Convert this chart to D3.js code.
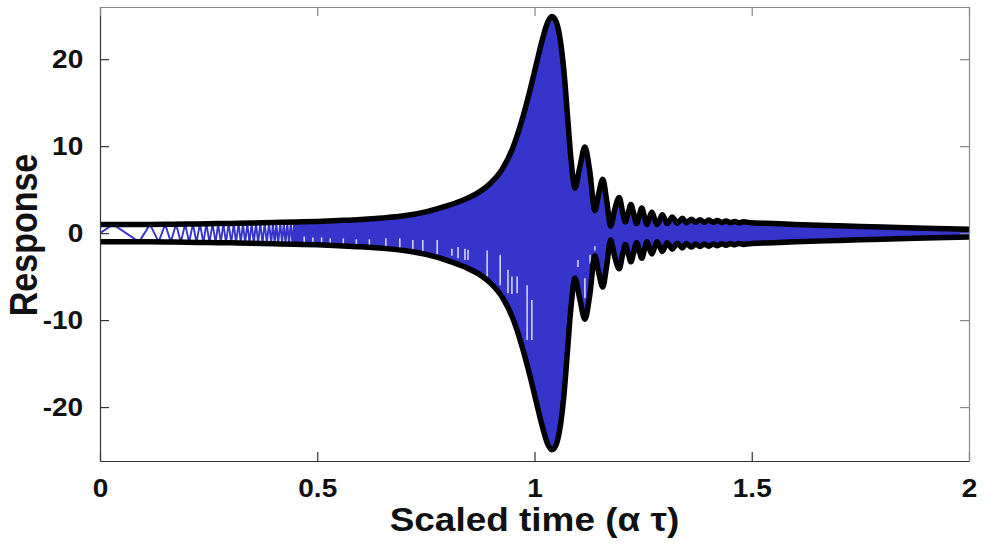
<!DOCTYPE html>
<html><head><meta charset="utf-8">
<script src="https://cdn.jsdelivr.net/npm/d3@7"></script>
<style>body{margin:0;background:#fff}svg{display:block}</style>
</head><body><svg id="c" width="984" height="553"></svg>
<script>
// ---- data ----
const xTicks = [0, 0.5, 1, 1.5, 2];
const yTicks = [-20, -10, 0, 10, 20];
const xTitle = "Scaled time (\u03b1 \u03c4)";
const yTitle = "Response";

// envelope (black) : scaled time and amplitude
const envT = [0.000,0.050,0.100,0.150,0.200,0.250,0.300,0.350,0.400,0.450,0.500,0.550,0.600,0.650,0.700,0.750,0.800,0.840,0.875,0.900,0.925,0.950,0.970,0.990,1.005,1.020,1.030,1.040,1.050,1.060,1.068,1.076,1.084,1.093,1.104,1.116,1.127,1.139,1.148,1.157,1.166,1.175,1.185,1.195,1.203,1.209,1.216,1.222,1.228,1.235,1.241,1.247,1.253,1.259,1.264,1.270,1.276,1.282,1.288,1.294,1.300,1.305,1.311,1.317,1.323,1.328,1.334,1.340,1.350,1.361,1.371,1.381,1.391,1.401,1.411,1.421,1.431,1.441,1.451,1.461,1.471,1.481,1.500,1.550,1.600,1.700,1.800,1.900,2.000];
const envA = [1.00,1.00,1.00,1.02,1.05,1.08,1.12,1.17,1.22,1.28,1.35,1.45,1.57,1.75,2.00,2.45,3.15,3.90,4.80,5.80,7.30,9.80,12.80,16.50,19.60,22.60,24.20,24.90,24.30,22.00,18.50,13.50,8.50,5.20,7.50,9.90,7.20,2.60,4.60,6.20,3.80,0.80,2.80,4.10,2.40,1.30,2.40,3.30,2.30,1.10,2.00,2.90,1.90,1.00,1.70,2.40,1.70,1.00,1.50,2.10,1.60,1.10,1.45,1.85,1.50,1.15,1.40,1.70,1.20,1.60,1.25,1.55,1.25,1.50,1.25,1.45,1.22,1.40,1.20,1.35,1.18,1.30,1.18,1.10,1.00,0.85,0.70,0.55,0.45];

// times of the alternating extremes of the blue response (visible zig-zag part)
const peakT = [0.030,0.090,0.115,0.135,0.150,0.163,0.175,0.186,0.196,0.205,0.214,0.222,0.230,0.238,0.245,0.252,0.259,0.266,0.272,0.278,0.284,0.290,0.296,0.302,0.308,0.313,0.319,0.324,0.329,0.334,0.339,0.344,0.349,0.354,0.359,0.364,0.369,0.374,0.379,0.384,0.389,0.394,0.398,0.402,0.406,0.410,0.415,0.419,0.423,0.427,0.431,0.435,0.439,0.443,0.447];
const fillStart = 0.445;

// light streaks visible inside the blue area
const gapT  = [0.470,0.490,0.510,0.530,0.560,0.590,0.620,0.658,0.690,0.720,0.743,0.776,0.810,0.824,0.840,0.847,0.891,0.921,0.939,0.948,0.960,0.983,0.994,1.100,1.116,1.128,1.139];
const gapLo = [-1.3,-1.3,-1.4,-1.4,-1.5,-1.5,-1.6,-1.6,-2.0,-2.0,-2.2,-2.4,-2.6,-2.9,-3.1,-3.1,-5.0,-6.0,-6.9,-7.0,-6.9,-12.3,-12.3,-3.9,-7.5,-3.5,-2.0];
const gapHi = [-0.4,-0.5,-0.5,-0.6,-0.6,-0.7,-0.7,-0.6,-0.6,-0.8,-0.8,-0.8,-1.8,-1.6,-1.8,-1.9,-2.0,-2.5,-4.2,-5.0,-5.0,-6.0,-7.7,-3.1,-5.2,-2.5,-1.5];

// ---- drawing ----
const svg = d3.select("#c");
const L = 100, R = 969, T = 7, B = 461;
const x = d3.scaleLinear().domain([0, 2]).range([L, R]);
const y = d3.scaleLinear().domain([-26.2, 26]).range([B, T]);
const env = d3.scaleLinear().domain(envT).range(envA);
const BLUE = "#3535cc";
const FONT = "'Liberation Sans', Arial, Helvetica, sans-serif";
const SX = 1.12;
const fmt = d => String(d); // plain hyphen minus as in the reference

svg.append("clipPath").attr("id", "clip").append("rect")
  .attr("x", L).attr("y", T).attr("width", R - L).attr("height", B - T);
const g = svg.append("g").attr("clip-path", "url(#clip)");

// zig-zag
const zig = [[0, 0]].concat(peakT.map((t, i) => [t, (i % 2 === 0 ? 1 : -1) * env(t)]));
g.append("path")
  .attr("d", d3.line().x(d => x(d[0])).y(d => y(d[1]))(zig))
  .attr("fill", "none").attr("stroke", BLUE).attr("stroke-width", 1.9);

// dense part: filled band between envelopes
const envPts = envT.map((t, i) => [t, envA[i]]);
const band = [[fillStart, env(fillStart)]].concat(envPts.filter(d => d[0] > fillStart));
g.append("path")
  .attr("d", d3.area().curve(d3.curveMonotoneX)
    .x(d => x(d[0])).y0(d => y(-d[1])).y1(d => y(d[1]))(band))
  .attr("fill", BLUE).attr("stroke", BLUE).attr("stroke-width", 1);

// streaks
g.selectAll("line.gap").data(gapT).join("line").attr("class", "gap")
  .attr("x1", d => x(d)).attr("x2", d => x(d))
  .attr("y1", (d, i) => y(gapHi[i])).attr("y2", (d, i) => y(gapLo[i]))
  .attr("stroke", "#eeeeff").attr("stroke-width", 1.5).attr("opacity", 0.9);

// envelopes
const envLine = s => d3.line().curve(d3.curveMonotoneX).x(d => x(d[0])).y(d => y(s * d[1]));
[1, -1].forEach(s => {
  g.append("path").attr("d", envLine(s)(envPts))
    .attr("fill", "none").attr("stroke", "#000").attr("stroke-width", 5.5)
    .attr("stroke-linejoin", "round");
});

// axes
function styleAxis(sel, col) {
  sel.selectAll("path.domain").attr("stroke", col).attr("stroke-width", 1.2);
  sel.selectAll(".tick line").attr("stroke", col).attr("stroke-width", 1.2);
}
const ax = svg.append("g").attr("transform", `translate(0,${B})`)
  .call(d3.axisBottom(x).tickValues(xTicks).tickSize(-9).tickSizeOuter(0).tickPadding(18).tickFormat(fmt));
styleAxis(ax, "#333");
ax.selectAll("text").attr("font-family", FONT).attr("font-weight", "bold").attr("font-size", 25)
  .attr("fill", "#111").attr("transform", `scale(${SX},1)`);

const ay = svg.append("g").attr("transform", `translate(${L},0)`)
  .call(d3.axisLeft(y).tickValues(yTicks).tickSize(-9).tickSizeOuter(0).tickPadding(15).tickFormat(fmt));
styleAxis(ay, "#333");
ay.selectAll("text").attr("font-family", FONT).attr("font-weight", "bold").attr("font-size", 25)
  .attr("fill", "#111").attr("transform", `scale(${SX},1)`);

const at = svg.append("g").attr("transform", `translate(0,${T})`)
  .call(d3.axisTop(x).tickValues(xTicks).tickSize(-9).tickSizeOuter(0).tickFormat(""));
styleAxis(at, "#888");
const ar = svg.append("g").attr("transform", `translate(${R},0)`)
  .call(d3.axisRight(y).tickValues(yTicks).tickSize(-9).tickSizeOuter(0).tickFormat(""));
styleAxis(ar, "#888");

// titles
svg.append("text").attr("transform", `translate(${(L + R) / 2},531) scale(${SX},1)`)
  .attr("text-anchor", "middle").attr("font-family", FONT).attr("font-weight", "bold")
  .attr("font-size", 33).attr("fill", "#111").text(xTitle);
svg.append("text").attr("transform", `translate(37,235) scale(${SX},1) rotate(-90)`)
  .attr("text-anchor", "middle").attr("font-family", FONT).attr("font-weight", "bold")
  .attr("font-size", 34).attr("fill", "#111").text(yTitle);
</script></body></html>
